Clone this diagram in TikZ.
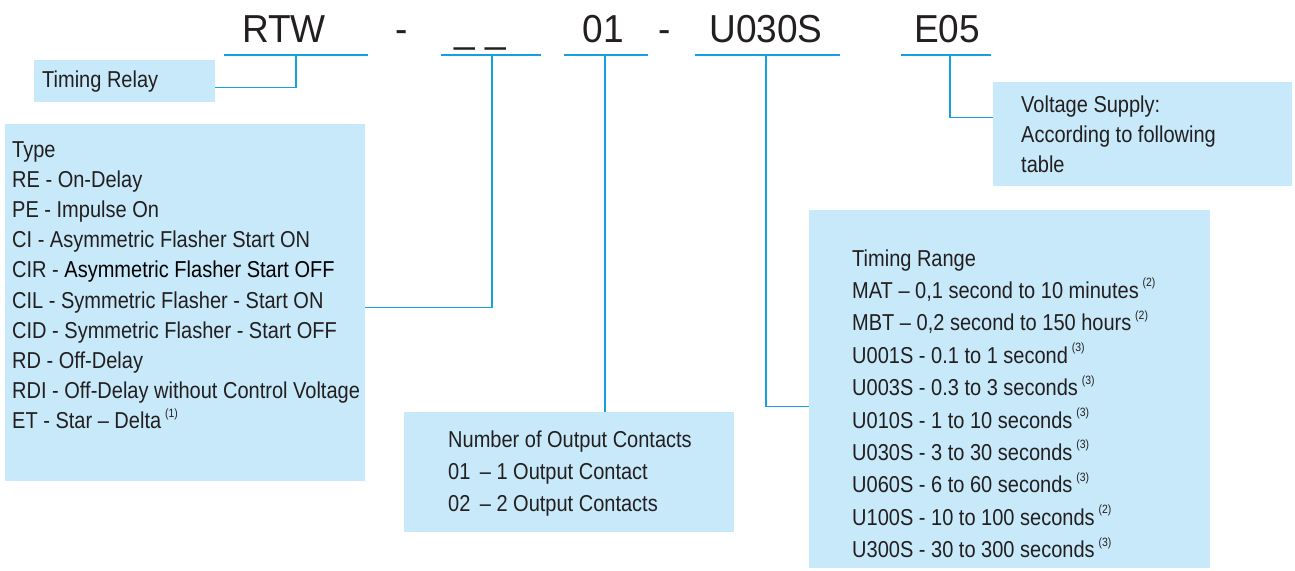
\documentclass[tikz,border=0pt]{standalone}
\usepackage{fontspec}
\setmainfont{Liberation Sans}[FakeStretch=0.87]
\newfontfamily\codefont{Liberation Sans}[FakeStretch=0.95]
\definecolor{boxfill}{RGB}{199,233,249}
\definecolor{lineblue}{RGB}{20,160,225}
\definecolor{ink}{RGB}{35,31,32}
\newcommand\fnote[1]{\,\raisebox{0.5em}{\fontsize{12}{12}\selectfont(#1)}}
\begin{document}
\begin{tikzpicture}[x=1pt,y=-1pt,
  infobox/.style={fill=boxfill,draw=none,inner sep=0pt,anchor=north west},
  conn/.style={draw=lineblue,line width=1.3pt},
  uline/.style={draw=lineblue,line width=1.3pt},
  code/.style={anchor=base,inner sep=0pt,text=ink,font=\codefont\fontsize{39}{39}\selectfont},
  body/.style={anchor=base west,inner sep=0pt,text=ink,font=\fontsize{23}{25}\selectfont}]
\path[use as bounding box] (0,0) rectangle (1295,570);
% code line
\node[code] (cRTW) at (284,42) {RTW};
\node[code] (cD1) at (402,42) {-};
\node[code] (cT) at (480,42) {\_ \_};
\node[code] (c01) at (603,42) {01};
\node[code] (cD2) at (665,42) {-};
\node[code] (cU) at (766,42) {U030S};
\node[code] (cE) at (947,42) {E05};
% underlines
\coordinate (u1) at (296,55);
\coordinate (u2) at (492,55);
\coordinate (u3) at (605,55);
\coordinate (u4) at (766,55);
\coordinate (u5) at (950,55);
\draw[uline] (224,55) -- (368,55);
\draw[uline] (441,55) -- (541,55);
\draw[uline] (564,55) -- (648,55);
\draw[uline] (695,55) -- (840,55);
\draw[uline] (901,55) -- (991,55);
% boxes
\node[infobox,minimum width=181pt,minimum height=42pt] (relay) at (34,60) {};
\node[body] (relayT) at (42,87) {Timing Relay};
\node[infobox,minimum width=360pt,minimum height=357pt] (typebox) at (5,124) {};
\foreach \t [count=\i] in {Type,RE - On-Delay,PE - Impulse On,CI - Asymmetric Flasher Start ON,{CIR - \textcolor{black}{Asymmetric Flasher Start OFF}},CIL - Symmetric Flasher - Start ON,CID - Symmetric Flasher - Start OFF,RD - Off-Delay,RDI - Off-Delay without Control Voltage,{ET - Star -- Delta\fnote{1}}}
  \node[body] (type\i) at (12,{157+(\i-1)*30.2}) {\t};
\node[infobox,minimum width=330pt,minimum height=120pt] (outbox) at (404,412) {};
\foreach \t [count=\i] in {Number of Output Contacts,01~\,-- 1 Output Contact,02~\,-- 2 Output Contacts}
  \node[body] (out\i) at (448,{447+(\i-1)*32}) {\t};
\node[infobox,minimum width=401pt,minimum height=358pt] (rangebox) at (809,210) {};
\foreach \t [count=\i] in {Timing Range,{MAT -- 0,1 second to 10 minutes\fnote{2}},{MBT -- 0,2 second to 150 hours\fnote{2}},{U001S - 0.1 to 1 second\fnote{3}},{U003S - 0.3 to 3 seconds\fnote{3}},{U010S - 1 to 10 seconds\fnote{3}},{U030S - 3 to 30 seconds\fnote{3}},{U060S - 6 to 60 seconds\fnote{3}},{U100S - 10 to 100 seconds\fnote{2}},{U300S - 30 to 300 seconds\fnote{3}}}
  \node[body] (rng\i) at (852,{266+(\i-1)*32.4}) {\t};
\node[infobox,minimum width=299pt,minimum height=104pt] (voltbox) at (993,82) {};
\foreach \t [count=\i] in {Voltage Supply:,According to following,table}
  \node[body] (volt\i) at (1021,{112+(\i-1)*30}) {\t};
% connectors
\draw[conn] ([yshift=-6pt]relay.east) -| (u1);
\draw[conn] ([yshift=-4.5pt]typebox.east) -| (u2);
\draw[conn] (u3) -- (u3 |- outbox.north);
\draw[conn] (u4) |- ([yshift=-17pt]rangebox.west);
\draw[conn] (u5) |- ([yshift=17pt]voltbox.west);
\end{tikzpicture}
\end{document}
